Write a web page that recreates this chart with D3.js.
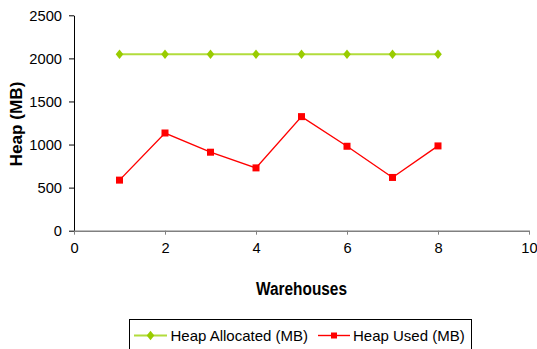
<!DOCTYPE html>
<html>
<head>
<meta charset="utf-8">
<script src="https://cdn.jsdelivr.net/npm/d3@7"></script>
<style>
  html, body { margin: 0; padding: 0; background: #fff; }
  svg { display: block; font-family: "Liberation Sans", Arial, sans-serif; }
</style>
</head>
<body>
<svg id="chart" width="537" height="349"></svg>
<script>
// Heap usage per warehouse count
const warehouses = [1, 2, 3, 4, 5, 6, 7, 8];
const heapAllocated = [2048, 2048, 2048, 2048, 2048, 2048, 2048, 2048];
const heapUsed = [587, 1134, 911, 729, 1324, 980, 618, 984];
const xTicks = [0, 2, 4, 6, 8, 10];
const yTicks = [0, 500, 1000, 1500, 2000, 2500];
const seriesNames = ["Heap Allocated (MB)", "Heap Used (MB)"];

const svg = d3.select("#chart");
const plotLeft = 74, plotRight = 529, plotTop = 15.3, plotBottom = 230.7;
const fontFamily = "'Liberation Sans', Arial, sans-serif";

const x = d3.scaleLinear().domain([0, 10]).range([plotLeft, plotRight]);
const y = d3.scaleLinear().domain([0, 2500]).range([plotBottom, plotTop]);

// Y axis
const yAxis = svg.append("g")
  .attr("transform", `translate(${plotLeft},0)`)
  .call(d3.axisLeft(y).tickValues(yTicks).tickFormat(d3.format("d"))
    .tickSize(5).tickPadding(7).tickSizeOuter(0));
yAxis.attr("font-family", fontFamily);
yAxis.select(".domain").attr("stroke", "#000").attr("stroke-width", 1);
yAxis.selectAll(".tick line").attr("stroke", "#000");
yAxis.selectAll("text").attr("font-size", 14.7).attr("fill", "#000");

// X axis
const xAxis = svg.append("g")
  .attr("transform", `translate(0,${plotBottom})`)
  .call(d3.axisBottom(x).tickValues(xTicks).tickFormat(d3.format("d"))
    .tickSize(4).tickPadding(8).tickSizeOuter(0));
xAxis.attr("font-family", fontFamily);
xAxis.select(".domain").attr("stroke", "#808080").attr("stroke-width", 1.5);
xAxis.selectAll(".tick line").attr("stroke", "#808080");
xAxis.selectAll("text").attr("font-size", 14.7).attr("fill", "#000");

// Axis titles (bold, slightly condensed)
svg.append("text")
  .attr("x", (plotLeft + plotRight) / 2).attr("y", 295)
  .attr("text-anchor", "middle")
  .attr("font-size", 17.5).attr("font-weight", "bold")
  .attr("textLength", 91).attr("lengthAdjust", "spacingAndGlyphs")
  .text("Warehouses");

svg.append("text")
  .attr("transform", `translate(22,${(plotTop + plotBottom) / 2 + 1}) rotate(-90)`)
  .attr("text-anchor", "middle")
  .attr("font-size", 17).attr("font-weight", "bold")
  .attr("textLength", 85).attr("lengthAdjust", "spacingAndGlyphs")
  .text("Heap (MB)");

const line = d3.line().x((d, i) => x(warehouses[i])).y(d => y(d));

// Diamond marker: a bit taller than wide
const diamondType = {
  draw(ctx, size) {
    const w = 3.8, h = 4.8;
    ctx.moveTo(0, -h); ctx.lineTo(w, 0); ctx.lineTo(0, h); ctx.lineTo(-w, 0); ctx.closePath();
  }
};
const diamond = d3.symbol().type(diamondType);

// Heap Allocated series
svg.append("path")
  .datum(heapAllocated)
  .attr("d", line)
  .attr("fill", "none")
  .attr("stroke", "#b2dc3c")
  .attr("stroke-width", 2.2);

svg.append("g").selectAll("path")
  .data(heapAllocated)
  .join("path")
  .attr("transform", (d, i) => `translate(${x(warehouses[i])},${y(d)})`)
  .attr("d", diamond)
  .attr("fill", "#99cc00");

// Heap Used series
svg.append("path")
  .datum(heapUsed)
  .attr("d", line)
  .attr("fill", "none")
  .attr("stroke", "#ff0000")
  .attr("stroke-width", 1.4);

svg.append("g").selectAll("rect")
  .data(heapUsed)
  .join("rect")
  .attr("x", (d, i) => x(warehouses[i]) - 3.5)
  .attr("y", d => y(d) - 3.5)
  .attr("width", 7).attr("height", 7)
  .attr("fill", "#ff0000");

// Legend
const legend = svg.append("g");
legend.append("rect")
  .attr("x", 129.5).attr("y", 319.5)
  .attr("width", 342).attr("height", 40)
  .attr("fill", "#fff").attr("stroke", "#000").attr("stroke-width", 1);

const legendY = 335.5;
const items = [
  { name: seriesNames[0], x0: 134, x1: 167, tx: 170.5, color: "#b2dc3c", mark: "#99cc00", w: 2.2, shape: "diamond" },
  { name: seriesNames[1], x0: 318, x1: 350, tx: 353, color: "#ff0000", mark: "#ff0000", w: 1.4, shape: "square" }
];
items.forEach(it => {
  legend.append("line")
    .attr("x1", it.x0).attr("x2", it.x1)
    .attr("y1", legendY).attr("y2", legendY)
    .attr("stroke", it.color).attr("stroke-width", it.w);
  const cx = (it.x0 + it.x1) / 2;
  if (it.shape === "diamond") {
    legend.append("path")
      .attr("transform", `translate(${cx},${legendY})`)
      .attr("d", diamond).attr("fill", it.mark);
  } else {
    legend.append("rect")
      .attr("x", cx - 3).attr("y", legendY - 3)
      .attr("width", 6).attr("height", 6)
      .attr("fill", it.mark);
  }
  legend.append("text")
    .attr("x", it.tx).attr("y", legendY + 5)
    .attr("font-size", 15).attr("fill", "#000")
    .text(it.name);
});
</script>
</body>
</html>
